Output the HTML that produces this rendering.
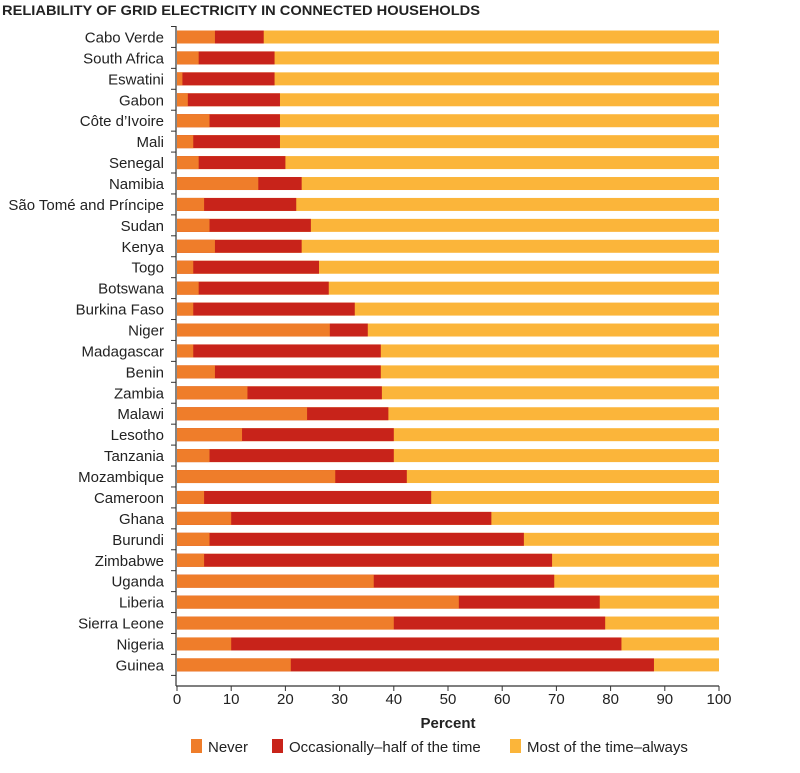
<!DOCTYPE html>
<html><head><meta charset="utf-8"><style>
body{margin:0;background:#fff;width:800px;height:768px;overflow:hidden}
svg text{font-family:"Liberation Sans",sans-serif;fill:#222}
</style></head><body>
<svg width="800" height="768" xmlns="http://www.w3.org/2000/svg">
<text x="2" y="15" font-size="14" font-weight="bold" fill="#333" textLength="478" lengthAdjust="spacingAndGlyphs">RELIABILITY OF GRID ELECTRICITY IN CONNECTED HOUSEHOLDS</text>
<g id="bars"></g>
<line x1="176" y1="26" x2="176" y2="686" stroke="#333" stroke-width="1.2"/>
<line x1="176" y1="686" x2="719" y2="686" stroke="#333" stroke-width="1.2"/>
<g id="ticks"></g>
<text x="448" y="728" font-size="15" font-weight="bold" text-anchor="middle">Percent</text>
<rect x="191" y="739" width="11" height="14" fill="#ef7d2a"/>
<text x="208" y="752" font-size="15">Never</text>
<rect x="272" y="739" width="11" height="14" fill="#c8231a"/>
<text x="289" y="752" font-size="15">Occasionally–half of the time</text>
<rect x="510" y="739" width="11" height="14" fill="#fbb53a"/>
<text x="527" y="752" font-size="15">Most of the time–always</text>
</svg>
<script>
const d=[["Cabo Verde",7,16],["South Africa",4,18],["Eswatini",1,18],["Gabon",2,19],["Côte d’Ivoire",6,19],["Mali",3,19],["Senegal",4,20],["Namibia",15,23],["São Tomé and Príncipe",5,22],["Sudan",6,24.7],["Kenya",7,23],["Togo",3,26.2],["Botswana",4,28],["Burkina Faso",3,32.8],["Niger",28.2,35.2],["Madagascar",3,37.6],["Benin",7,37.6],["Zambia",13,37.8],["Malawi",24,39],["Lesotho",12,40],["Tanzania",6,40],["Mozambique",29.2,42.4],["Cameroon",5,46.9],["Ghana",10,58],["Burundi",6,64],["Zimbabwe",5,69.2],["Uganda",36.3,69.6],["Liberia",52,78],["Sierra Leone",40,79],["Nigeria",10,82],["Guinea",21,88]];
const g=document.getElementById("bars"),t=document.getElementById("ticks");
const X=v=>177+v*5.42;let h="";
d.forEach((r,i)=>{const c=37+i*20.93,y=c-6.5;
h+=`<rect x="${X(0)}" y="${y}" width="${X(100)-X(0)}" height="13" fill="#fbb53a"/>`;
h+=`<rect x="${X(0)}" y="${y}" width="${X(r[2])-X(0)}" height="13" fill="#c8231a"/>`;
h+=`<rect x="${X(0)}" y="${y}" width="${X(r[1])-X(0)}" height="13" fill="#ef7d2a"/>`;
h+=`<text x="164" y="${c+5.5}" font-size="15" text-anchor="end">${r[0]}</text>`;
h+=`<line x1="171" x2="176" y1="${c-10.5}" y2="${c-10.5}" stroke="#333"/>`;});
h+=`<line x1="171" x2="176" y1="${37+30*20.93+10.5}" y2="${37+30*20.93+10.5}" stroke="#333"/>`;
g.innerHTML=h;let s="";
for(let v=0;v<=100;v+=10){s+=`<line x1="${X(v)}" x2="${X(v)}" y1="686" y2="691" stroke="#333"/><text x="${X(v)}" y="704" font-size="15" text-anchor="middle">${v}</text>`;}
t.innerHTML=s;
</script>
</body></html>
